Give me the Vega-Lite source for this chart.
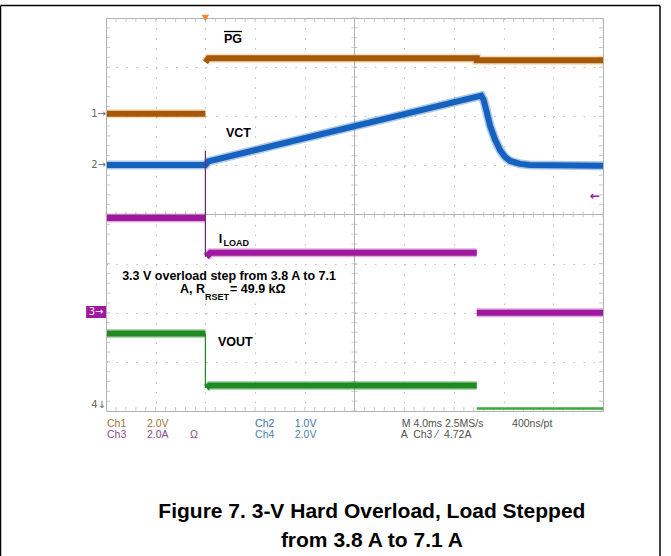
{
  "$schema": "https://vega.github.io/schema/vega-lite/v6.json",
  "autosize": "none",
  "width": 497,
  "height": 393,
  "padding": {"left": 106, "top": 18, "right": 68, "bottom": 145},
  "background": "white",
  "config": {
    "view": {"stroke": "#b4b4b4", "strokeWidth": 1},
    "axis": {"labels": false, "ticks": false, "domain": false, "titleOpacity": 0}
  },
  "resolve": {"scale": {"color": "independent"}},
  "datasets": {
    "xt": [0,0.2,0.4,0.6,0.8,1,1.2,1.4,1.6,1.8,2,2.2,2.4,2.6,2.8,3,3.2,3.4,3.6,3.8,4,4.2,4.4,4.6,4.8,5,5.2,5.4,5.6,5.8,6,6.2,6.4,6.6,6.8,7,7.2,7.4,7.6,7.8,8,8.2,8.4,8.6,8.8,9,9.2,9.4,9.6,9.8,10],
    "yt": [0,0.2,0.4,0.6,0.8,1,1.2,1.4,1.6,1.8,2,2.2,2.4,2.6,2.8,3,3.2,3.4,3.6,3.8,4,4.2,4.4,4.6,4.8,5,5.2,5.4,5.6,5.8,6,6.2,6.4,6.6,6.8,7,7.2,7.4,7.6,7.8,8],
    "traces": [
      {"ch": "PG", "s": "PGa", "i": 0, "t": 0.02, "v": 6.05},
      {"ch": "PG", "s": "PGa", "i": 1, "t": 2.0, "v": 6.05},
      {"ch": "PG", "s": "PGb", "i": 2, "t": 2.0, "v": 7.1},
      {"ch": "PG", "s": "PGb", "i": 3, "t": 2.06, "v": 7.18},
      {"ch": "PG", "s": "PGb", "i": 4, "t": 7.46, "v": 7.18},
      {"ch": "PG", "s": "PGb", "i": 5, "t": 7.46, "v": 7.14},
      {"ch": "PG", "s": "PGb", "i": 6, "t": 10, "v": 7.14},
      {"ch": "VCT", "s": "VCT", "i": 7, "t": 0.02, "v": 5.01},
      {"ch": "VCT", "s": "VCT", "i": 8, "t": 2.0, "v": 5.01},
      {"ch": "VCT", "s": "VCT", "i": 9, "t": 2.06, "v": 5.08},
      {"ch": "VCT", "s": "VCT", "i": 10, "t": 7.55, "v": 6.42},
      {"ch": "VCT", "s": "VCT", "i": 11, "t": 7.6, "v": 6.33},
      {"ch": "VCT", "s": "VCT", "i": 12, "t": 7.65, "v": 6.13},
      {"ch": "VCT", "s": "VCT", "i": 13, "t": 7.73, "v": 5.8},
      {"ch": "VCT", "s": "VCT", "i": 14, "t": 7.83, "v": 5.52},
      {"ch": "VCT", "s": "VCT", "i": 15, "t": 7.93, "v": 5.31},
      {"ch": "VCT", "s": "VCT", "i": 16, "t": 8.03, "v": 5.17},
      {"ch": "VCT", "s": "VCT", "i": 17, "t": 8.13, "v": 5.09},
      {"ch": "VCT", "s": "VCT", "i": 18, "t": 8.33, "v": 5.03},
      {"ch": "VCT", "s": "VCT", "i": 19, "t": 8.53, "v": 5.01},
      {"ch": "VCT", "s": "VCT", "i": 20, "t": 10, "v": 4.99},
      {"ch": "IL", "s": "ILa", "i": 21, "t": 0.02, "v": 3.93},
      {"ch": "IL", "s": "ILa", "i": 22, "t": 2.0, "v": 3.93},
      {"ch": "IL", "s": "ILb", "i": 23, "t": 2.02, "v": 3.14},
      {"ch": "IL", "s": "ILb", "i": 24, "t": 2.1, "v": 3.22},
      {"ch": "IL", "s": "ILb", "i": 25, "t": 7.46, "v": 3.22},
      {"ch": "IL", "s": "ILc", "i": 26, "t": 7.46, "v": 2.0},
      {"ch": "IL", "s": "ILc", "i": 27, "t": 10, "v": 2.0},
      {"ch": "VO", "s": "VOa", "i": 28, "t": 0.02, "v": 1.58},
      {"ch": "VO", "s": "VOa", "i": 29, "t": 2.0, "v": 1.58},
      {"ch": "VO", "s": "VOb", "i": 30, "t": 2.02, "v": 0.47},
      {"ch": "VO", "s": "VOb", "i": 31, "t": 2.08, "v": 0.52},
      {"ch": "VO", "s": "VOb", "i": 32, "t": 7.46, "v": 0.52},
      {"ch": "VOc", "s": "VOc", "i": 33, "t": 7.46, "v": 0.05},
      {"ch": "VOc", "s": "VOc", "i": 34, "t": 10, "v": 0.05}
    ],
    "edges": [
      {"ch": "IL", "t": 2.0, "v": 3.14, "v2": 5.3},
      {"ch": "VO", "t": 2.0, "v": 0.47, "v2": 1.58}
    ],
    "ann": [
      {"txt": "PG", "t": 2.374, "v": 7.57},
      {"txt": "VCT", "t": 2.414, "v": 5.665},
      {"txt": "I", "t": 2.27, "v": 3.5},
      {"txt": "VOUT", "t": 2.254, "v": 1.41},
      {"txt": "A, R", "t": 1.489, "v": 2.483},
      {"txt": "= 49.9 kΩ", "t": 2.495, "v": 2.483}
    ],
    "sub": [
      {"txt": "LOAD", "t": 2.364, "v": 3.42},
      {"txt": "RSET", "t": 1.99, "v": 2.33}
    ],
    "readout": [
      {"txt": "Ch1", "k": "ch1", "t": 0.02, "v": -0.265},
      {"txt": "2.0V", "k": "ch1", "t": 0.825, "v": -0.265},
      {"txt": "Ch3", "k": "ch3", "t": 0.02, "v": -0.489},
      {"txt": "2.0A", "k": "ch3", "t": 0.825, "v": -0.489},
      {"txt": "Ω", "k": "ch3", "t": 1.69, "v": -0.489},
      {"txt": "Ch2", "k": "ch2", "t": 3.0, "v": -0.265},
      {"txt": "1.0V", "k": "ch2", "t": 3.8, "v": -0.265},
      {"txt": "Ch4", "k": "ch4", "t": 3.0, "v": -0.489},
      {"txt": "2.0V", "k": "ch4", "t": 3.8, "v": -0.489},
      {"txt": "M 4.0ms 2.5MS/s", "k": "m", "t": 5.95, "v": -0.265},
      {"txt": "400ns/pt", "k": "m", "t": 8.17, "v": -0.265},
      {"txt": "A", "k": "m", "t": 5.93, "v": -0.489},
      {"txt": "Ch3", "k": "m", "t": 6.18, "v": -0.489},
      {"txt": "⁄", "k": "m", "t": 6.64, "v": -0.489},
      {"txt": "4.72A", "k": "m", "t": 6.8, "v": -0.489}
    ],
    "marks": [
      {"txt": "1→", "t": 0.0, "v": 6.05},
      {"txt": "2→", "t": 0.0, "v": 5.01},
      {"txt": "4↓", "t": 0.0, "v": 0.12}
    ]
  },
  "layer": [
    {
      "data": {"values": [{"t": 0, "v": 0}]},
      "mark": {"type": "point", "opacity": 0},
      "encoding": {
        "x": {"field": "t", "type": "quantitative", "scale": {"domain": [0, 10], "nice": false, "zero": false},
              "axis": {"title": null, "labels": false, "ticks": false, "domain": false, "grid": true, "values": [1,2,3,4,6,7,8,9], "gridColor": "#bdbdbd", "gridDash": [1.5, 8.325], "gridWidth": 1}},
        "y": {"field": "v", "type": "quantitative", "scale": {"domain": [0, 8], "nice": false, "zero": false},
              "axis": {"title": null, "labels": false, "ticks": false, "domain": false, "grid": true, "values": [1,2,3,5,6,7], "gridColor": "#bdbdbd", "gridDash": [1.5, 8.44], "gridWidth": 1}}
      }
    },
    {"data": {"values": [{}]}, "mark": {"type": "rule", "color": "#b4b4b4"}, "encoding": {"x": {"datum": 5}}},
    {"data": {"values": [{}]}, "mark": {"type": "rule", "color": "#b4b4b4"}, "encoding": {"y": {"datum": 4}}},
    {"data": {"name": "xt"}, "mark": {"type": "tick", "orient": "vertical", "size": 8, "thickness": 1, "color": "#b4b4b4", "clip": true}, "encoding": {"x": {"field": "data", "type": "quantitative"}, "y": {"datum": 8}}},
    {"data": {"name": "xt"}, "mark": {"type": "tick", "orient": "vertical", "size": 8, "thickness": 1, "color": "#b4b4b4", "clip": true}, "encoding": {"x": {"field": "data", "type": "quantitative"}, "y": {"datum": 0}}},
    {"data": {"name": "xt"}, "mark": {"type": "tick", "orient": "vertical", "size": 6, "thickness": 1, "color": "#b4b4b4"}, "encoding": {"x": {"field": "data", "type": "quantitative"}, "y": {"datum": 4}}},
    {"data": {"name": "yt"}, "mark": {"type": "tick", "orient": "horizontal", "size": 8, "thickness": 1, "color": "#b4b4b4", "clip": true}, "encoding": {"y": {"field": "data", "type": "quantitative"}, "x": {"datum": 0}}},
    {"data": {"name": "yt"}, "mark": {"type": "tick", "orient": "horizontal", "size": 8, "thickness": 1, "color": "#b4b4b4", "clip": true}, "encoding": {"y": {"field": "data", "type": "quantitative"}, "x": {"datum": 10}}},
    {"data": {"name": "yt"}, "mark": {"type": "tick", "orient": "horizontal", "size": 6, "thickness": 1, "color": "#b4b4b4"}, "encoding": {"y": {"field": "data", "type": "quantitative"}, "x": {"datum": 5}}},
    {
      "data": {"name": "traces"},
      "transform": [{"filter": "datum.ch != 'VOc'"}],
      "mark": {"type": "line", "strokeWidth": 9, "opacity": 0.35, "strokeCap": "butt"},
      "encoding": {
        "x": {"field": "t", "type": "quantitative"},
        "y": {"field": "v", "type": "quantitative"},
        "detail": {"field": "s"},
        "order": {"field": "i", "type": "quantitative"},
        "color": {"field": "ch", "type": "nominal", "legend": null, "scale": {"domain": ["PG", "VCT", "IL", "VO"], "range": ["#e0a030", "#1462bd", "#a1179f", "#1f8a22"]}}
      }
    },
    {
      "data": {"name": "traces"},
      "transform": [{"filter": "datum.ch != 'VOc'"}],
      "mark": {"type": "line", "strokeWidth": 6, "strokeCap": "butt"},
      "encoding": {
        "x": {"field": "t", "type": "quantitative"},
        "y": {"field": "v", "type": "quantitative"},
        "detail": {"field": "s"},
        "order": {"field": "i", "type": "quantitative"},
        "color": {"field": "ch", "type": "nominal", "legend": null, "scale": {"domain": ["PG", "VCT", "IL", "VO"], "range": ["#a6580a", "#1462bd", "#a1179f", "#1f8a22"]}}
      }
    },
    {
      "data": {"name": "traces"},
      "transform": [{"filter": "datum.ch == 'VOc'"}],
      "mark": {"type": "line", "strokeWidth": 2.5, "color": "#3aaa3a"},
      "encoding": {
        "x": {"field": "t", "type": "quantitative"},
        "y": {"field": "v", "type": "quantitative"},
        "order": {"field": "i", "type": "quantitative"}
      }
    },
    {
      "data": {"name": "edges"},
      "mark": {"type": "rule", "strokeWidth": 1.2},
      "encoding": {
        "x": {"field": "t", "type": "quantitative"},
        "y": {"field": "v", "type": "quantitative"},
        "y2": {"field": "v2"},
        "color": {"field": "ch", "type": "nominal", "legend": null, "scale": {"domain": ["IL", "VO"], "range": ["#6a2a70", "#1f8a22"]}}
      }
    },
    {
      "data": {"values": [{"t": 2.0, "v": 8}]},
      "mark": {"type": "point", "shape": "triangle-down", "size": 55, "filled": true, "color": "#f0883a", "opacity": 1},
      "encoding": {"x": {"field": "t", "type": "quantitative"}, "y": {"field": "v", "type": "quantitative"}}
    },
    {
      "data": {"values": [{"txt": "←", "t": 9.84, "v": 4.38}]},
      "mark": {"type": "text", "font": "DejaVu Sans", "fontSize": 12, "fontWeight": "bold", "color": "#a1179f", "baseline": "middle"},
      "encoding": {"x": {"field": "t", "type": "quantitative"}, "y": {"field": "v", "type": "quantitative"}, "text": {"field": "txt"}}
    },
    {
      "data": {"values": [{"t": -0.4, "t2": 0.0, "v": 1.893, "v2": 2.137}]},
      "mark": {"type": "rect", "color": "#a1179f"},
      "encoding": {"x": {"field": "t", "type": "quantitative"}, "x2": {"field": "t2"}, "y": {"field": "v", "type": "quantitative"}, "y2": {"field": "v2"}}
    },
    {
      "data": {"values": [{"txt": "3→", "t": -0.2, "v": 2.015}]},
      "mark": {"type": "text", "font": "DejaVu Sans", "fontSize": 10, "color": "white", "baseline": "middle", "align": "center"},
      "encoding": {"x": {"field": "t", "type": "quantitative"}, "y": {"field": "v", "type": "quantitative"}, "text": {"field": "txt"}}
    },
    {
      "data": {"name": "readout"},
      "mark": {"type": "text", "font": "Liberation Sans", "fontSize": 10.5, "baseline": "middle", "align": "left"},
      "encoding": {
        "x": {"field": "t", "type": "quantitative"}, "y": {"field": "v", "type": "quantitative"}, "text": {"field": "txt"},
        "color": {"field": "k", "type": "nominal", "legend": null, "scale": {"domain": ["ch1", "ch2", "ch3", "ch4", "m"], "range": ["#a0743c", "#3f72ad", "#8e4a92", "#4a86a8", "#505050"]}}
      }
    },
    {
      "data": {"name": "marks"},
      "mark": {"type": "text", "font": "DejaVu Sans", "fontSize": 10, "baseline": "middle", "align": "right", "color": "#666666"},
      "encoding": {"x": {"field": "t", "type": "quantitative"}, "y": {"field": "v", "type": "quantitative"}, "text": {"field": "txt"}}
    },
    {
      "data": {"name": "ann"},
      "mark": {"type": "text", "font": "Liberation Sans", "fontSize": 12.5, "fontWeight": "bold", "baseline": "middle", "align": "left", "color": "black"},
      "encoding": {"x": {"field": "t", "type": "quantitative"}, "y": {"field": "v", "type": "quantitative"}, "text": {"field": "txt"}}
    },
    {
      "data": {"name": "sub"},
      "mark": {"type": "text", "font": "Liberation Sans", "fontSize": 9, "fontWeight": "bold", "baseline": "middle", "align": "left", "color": "black"},
      "encoding": {"x": {"field": "t", "type": "quantitative"}, "y": {"field": "v", "type": "quantitative"}, "text": {"field": "txt"}}
    },
    {
      "data": {"values": [{"txt": "3.3 V overload step from 3.8 A to 7.1", "t": 2.475, "v": 2.748}]},
      "mark": {"type": "text", "font": "Liberation Sans", "fontSize": 12.5, "fontWeight": "bold", "baseline": "middle", "align": "center", "color": "black"},
      "encoding": {"x": {"field": "t", "type": "quantitative"}, "y": {"field": "v", "type": "quantitative"}, "text": {"field": "txt"}}
    },
    {
      "data": {"values": [{"t": 2.374, "t2": 2.736, "v": 7.725}]},
      "mark": {"type": "rule", "color": "black", "strokeWidth": 1.3},
      "encoding": {"x": {"field": "t", "type": "quantitative"}, "x2": {"field": "t2"}, "y": {"field": "v", "type": "quantitative"}}
    },
    {
      "data": {"values": [
        {"txt": "Figure 7. 3-V Hard Overload, Load Stepped", "t": 5.35, "v": -2.056},
        {"txt": "from 3.8 A to 7.1 A", "t": 5.35, "v": -2.646}
      ]},
      "mark": {"type": "text", "font": "Liberation Sans", "fontSize": 21, "fontWeight": "bold", "baseline": "middle", "align": "center", "color": "black"},
      "encoding": {"x": {"field": "t", "type": "quantitative"}, "y": {"field": "v", "type": "quantitative"}, "text": {"field": "txt"}}
    },
    {
      "data": {"values": [
        {"t": -2.123, "t2": 11.147, "v": 8.254, "v2": 8.254},
        {"t": 11.147, "t2": 11.147, "v": 8.254, "v2": -2.95},
        {"t": -2.123, "t2": -2.123, "v": 8.254, "v2": -2.95}
      ]},
      "mark": {"type": "rule", "color": "black", "strokeWidth": 1.5},
      "encoding": {"x": {"field": "t", "type": "quantitative"}, "x2": {"field": "t2"}, "y": {"field": "v", "type": "quantitative"}, "y2": {"field": "v2"}}
    }
  ]
}
